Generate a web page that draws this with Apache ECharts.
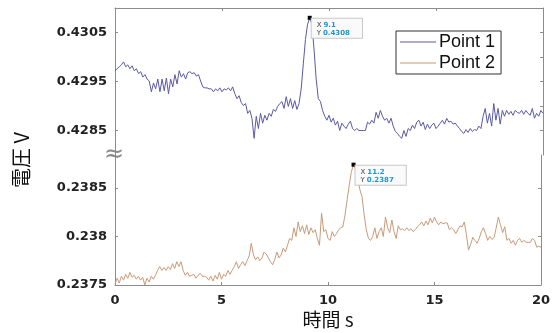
<!DOCTYPE html>
<html>
<head>
<meta charset="utf-8">
<script src="https://cdn.jsdelivr.net/npm/echarts@6/dist/echarts.min.js"></script>
<style>html,body{margin:0;padding:0;background:#fff}#c{width:553px;height:333px}</style>
</head>
<body>
<div id="c"></div>
<script>
// Sample step (s)
const dt = 0.1;
// Point 1 voltage (V), sampled every 0.1 s from 0 to 20 s
const point1 = [
0.42972,0.42976,0.42980,0.42984,0.42990,0.42980,0.42984,0.42976,0.42982,0.42972,
0.42976,0.42966,0.42970,0.42959,0.42964,0.42955,0.42951,0.42929,0.42947,0.42935,
0.42955,0.42929,0.42955,0.42931,0.42957,0.42925,0.42955,0.42939,0.42964,0.42945,
0.42972,0.42959,0.42966,0.42955,0.42968,0.42970,0.42966,0.42968,0.42961,0.42964,
0.42951,0.42939,0.42937,0.42937,0.42935,0.42935,0.42929,0.42935,0.42931,0.42937,
0.42929,0.42935,0.42933,0.42937,0.42931,0.42939,0.42925,0.42915,0.42921,0.42907,
0.42901,0.42905,0.42885,0.42891,0.42875,0.42834,0.42879,0.42854,0.42885,0.42865,
0.42881,0.42871,0.42885,0.42879,0.42893,0.42889,0.42899,0.42905,0.42909,0.42895,
0.42919,0.42899,0.42915,0.42895,0.42911,0.42893,0.42905,0.42935,0.42986,0.43036,
0.43067,0.43080,0.43067,0.43016,0.42955,0.42915,0.42909,0.42891,0.42879,0.42871,
0.42881,0.42867,0.42875,0.42861,0.42869,0.42850,0.42865,0.42859,0.42854,0.42863,
0.42869,0.42854,0.42850,0.42854,0.42850,0.42850,0.42850,0.42850,0.42867,0.42863,
0.42871,0.42865,0.42887,0.42875,0.42891,0.42879,0.42871,0.42875,0.42865,0.42875,
0.42859,0.42848,0.42844,0.42838,0.42834,0.42850,0.42838,0.42854,0.42850,0.42861,
0.42854,0.42867,0.42871,0.42859,0.42867,0.42852,0.42863,0.42854,0.42861,0.42865,
0.42854,0.42859,0.42865,0.42871,0.42863,0.42875,0.42867,0.42869,0.42863,0.42865,
0.42859,0.42854,0.42848,0.42844,0.42852,0.42846,0.42854,0.42848,0.42852,0.42850,
0.42859,0.42854,0.42879,0.42895,0.42865,0.42885,0.42859,0.42905,0.42871,0.42895,
0.42863,0.42891,0.42879,0.42891,0.42883,0.42889,0.42881,0.42891,0.42887,0.42885,
0.42891,0.42883,0.42891,0.42885,0.42881,0.42895,0.42875,0.42885,0.42879,0.42891,
0.42885
];
// Point 2 voltage (V), sampled every 0.1 s from 0 to 20 s
const point2 = [
0.23751,0.23757,0.23752,0.23759,0.23755,0.23761,0.23757,0.23763,0.23758,0.23760,
0.23756,0.23759,0.23755,0.23758,0.23750,0.23757,0.23753,0.23759,0.23756,0.23760,
0.23765,0.23769,0.23765,0.23768,0.23765,0.23769,0.23766,0.23772,0.23767,0.23774,
0.23769,0.23774,0.23765,0.23760,0.23763,0.23759,0.23760,0.23761,0.23757,0.23760,
0.23762,0.23759,0.23759,0.23758,0.23755,0.23759,0.23754,0.23760,0.23756,0.23763,
0.23756,0.23761,0.23759,0.23765,0.23761,0.23765,0.23769,0.23774,0.23767,0.23771,
0.23774,0.23770,0.23775,0.23780,0.23793,0.23781,0.23776,0.23779,0.23775,0.23778,
0.23784,0.23782,0.23778,0.23774,0.23771,0.23776,0.23784,0.23778,0.23781,0.23788,
0.23784,0.23791,0.23798,0.23796,0.23809,0.23800,0.23815,0.23805,0.23811,0.23803,
0.23812,0.23802,0.23809,0.23804,0.23807,0.23798,0.23791,0.23824,0.23805,0.23807,
0.23798,0.23796,0.23805,0.23800,0.23803,0.23807,0.23809,0.23810,0.23822,0.23838,
0.23853,0.23867,0.23874,0.23869,0.23860,0.23848,0.23841,0.23822,0.23807,0.23798,
0.23796,0.23800,0.23809,0.23798,0.23805,0.23809,0.23800,0.23820,0.23809,0.23804,
0.23817,0.23805,0.23798,0.23811,0.23807,0.23808,0.23806,0.23809,0.23806,0.23808,
0.23805,0.23807,0.23810,0.23812,0.23815,0.23811,0.23816,0.23812,0.23819,0.23814,
0.23820,0.23815,0.23812,0.23815,0.23813,0.23814,0.23814,0.23807,0.23809,0.23807,
0.23803,0.23807,0.23811,0.23810,0.23815,0.23802,0.23786,0.23792,0.23799,0.23796,
0.23793,0.23798,0.23805,0.23809,0.23803,0.23796,0.23800,0.23797,0.23799,0.23809,
0.23820,0.23812,0.23804,0.23810,0.23796,0.23798,0.23793,0.23796,0.23791,0.23796,
0.23798,0.23794,0.23796,0.23794,0.23794,0.23794,0.23798,0.23796,0.23789,0.23790,
0.23789
];
const seriesNames = ['Point 1', 'Point 2'];
const xTicks = [0, 5, 10, 15, 20];
const yTopLabels = [0.4285, 0.4295, 0.4305];
const yTopRightTicks = [0.4285, 0.429, 0.4295, 0.43, 0.4305];
const yBotLabels = [0.2375, 0.238, 0.2385];
const xName = '時間 s';
const yName = '電圧 V';

const toPairs = arr => arr.map((v, i) => [+(i * dt).toFixed(1), v]);
const peakOf = arr => { let k = 0; arr.forEach((v, i) => { if (v > arr[k]) k = i; }); return [+(k * dt).toFixed(1), arr[k]]; };
const pk1 = peakOf(point1), pk2 = peakOf(point2);

const axisColor = '#8c8c8c';
const labelFont = { fontFamily: 'DejaVu Sans', fontWeight: 'bold', fontSize: 13, color: '#222' };

function tipMark(pk) {
  return {
    symbol: 'rect', symbolSize: 4,
    itemStyle: { color: '#000' },
    data: [{ coord: pk }],
    label: {
      show: true, position: [4, 3], align: 'left', verticalAlign: 'top',
      backgroundColor: '#fafafa', borderColor: '#c8c8c8', borderWidth: 1,
      padding: [2, 12, 1, 5],
      fontSize: 7, lineHeight: 8,
      formatter: () => '{k|X} {v|' + pk[0].toFixed(1) + '}\n{k|Y} {v|' + pk[1].toFixed(4) + '}',
      rich: {
        k: { fontSize: 7, color: '#444', fontFamily: 'DejaVu Sans', lineHeight: 8, height: 8 },
        v: { fontSize: 7, color: '#1e96d2', fontWeight: 'bold', fontFamily: 'DejaVu Sans', lineHeight: 8, height: 8 }
      }
    }
  };
}

const chart = echarts.init(document.getElementById('c'), null, { renderer: 'canvas' });
chart.setOption({
  backgroundColor: '#fff',
  animation: false,
  grid: [
    { left: 115, right: 10, top: 8, height: 147 },
    { left: 115, right: 10, top: 155, height: 130 }
  ],
  xAxis: [
    { gridIndex: 0, type: 'value', position: 'top', min: 0, max: 20, interval: 5,
      axisLine: { show: true, lineStyle: { color: axisColor } },
      axisTick: { inside: true, length: 3, lineStyle: { color: axisColor }, customValues: xTicks },
      axisLabel: { show: false }, splitLine: { show: false } },
    { gridIndex: 1, type: 'value', position: 'bottom', min: 0, max: 20, interval: 5,
      axisLine: { show: true, lineStyle: { color: axisColor } },
      axisTick: { inside: true, length: 3, lineStyle: { color: axisColor }, customValues: xTicks },
      axisLabel: Object.assign({ margin: 9, customValues: xTicks }, labelFont),
      splitLine: { show: false },
      name: xName, nameLocation: 'middle', nameGap: 25,
      nameTextStyle: { fontFamily: 'Noto Sans CJK JP', fontSize: 19, color: '#111' } }
  ],
  yAxis: [
    { gridIndex: 0, type: 'value', position: 'left', min: 0.428, max: 0.431,
      axisLine: { show: true, lineStyle: { color: axisColor } },
      axisTick: { show: true, inside: true, length: 3, lineStyle: { color: axisColor }, customValues: yTopLabels },
      axisLabel: Object.assign({ margin: 8, customValues: yTopLabels }, labelFont),
      splitLine: { show: false } },
    { gridIndex: 0, type: 'value', position: 'right', min: 0.428, max: 0.431,
      axisLine: { show: true, lineStyle: { color: axisColor } },
      axisTick: { show: true, inside: true, length: 3, lineStyle: { color: axisColor }, customValues: yTopRightTicks },
      axisLabel: { show: false }, splitLine: { show: false } },
    { gridIndex: 1, type: 'value', position: 'left', min: 0.2375, max: 0.23884,
      axisLine: { show: true, lineStyle: { color: axisColor } },
      axisTick: { show: true, inside: true, length: 3, lineStyle: { color: axisColor }, customValues: yBotLabels },
      axisLabel: Object.assign({ margin: 8, customValues: yBotLabels }, labelFont),
      splitLine: { show: false } },
    { gridIndex: 1, type: 'value', position: 'right', min: 0.2375, max: 0.23884,
      axisLine: { show: true, lineStyle: { color: axisColor } },
      axisTick: { show: true, inside: true, length: 3, lineStyle: { color: axisColor }, customValues: yBotLabels },
      axisLabel: { show: false }, splitLine: { show: false } }
  ],
  legend: {
    orient: 'vertical', left: 396, top: 31,
    data: seriesNames,
    icon: 'rect', itemWidth: 36, itemHeight: 1, itemGap: 3,
    padding: [2, 6, 2, 4],
    borderColor: '#333', borderWidth: 1, backgroundColor: '#fff',
    textStyle: { fontFamily: 'Liberation Sans', fontSize: 18, color: '#111', padding: [0, 0, 0, -2] }
  },
  series: [
    { name: seriesNames[0], type: 'line', xAxisIndex: 0, yAxisIndex: 0,
      data: toPairs(point1), showSymbol: false, symbol: 'none',
      lineStyle: { color: '#5a5aa6', width: 1 }, itemStyle: { color: '#5a5aa6' },
      markPoint: tipMark(pk1), z: 3 },
    { name: seriesNames[1], type: 'line', xAxisIndex: 1, yAxisIndex: 2,
      data: toPairs(point2), showSymbol: false, symbol: 'none',
      lineStyle: { color: '#c99a78', width: 1 }, itemStyle: { color: '#c99a78' },
      markPoint: tipMark(pk2), z: 3 }
  ],
  graphic: [
    { type: 'text', x: 21, y: 160, rotation: Math.PI / 2,
      style: { text: yName, font: '20px "Noto Sans CJK JP"', fill: '#111', align: 'center', verticalAlign: 'middle' } },
    { type: 'text', x: 114, y: 155, z: 10,
      style: { text: '≈', font: '24px "DejaVu Sans"', fill: '#888', align: 'center', verticalAlign: 'middle' } }
  ]
});
</script>
</body>
</html>
